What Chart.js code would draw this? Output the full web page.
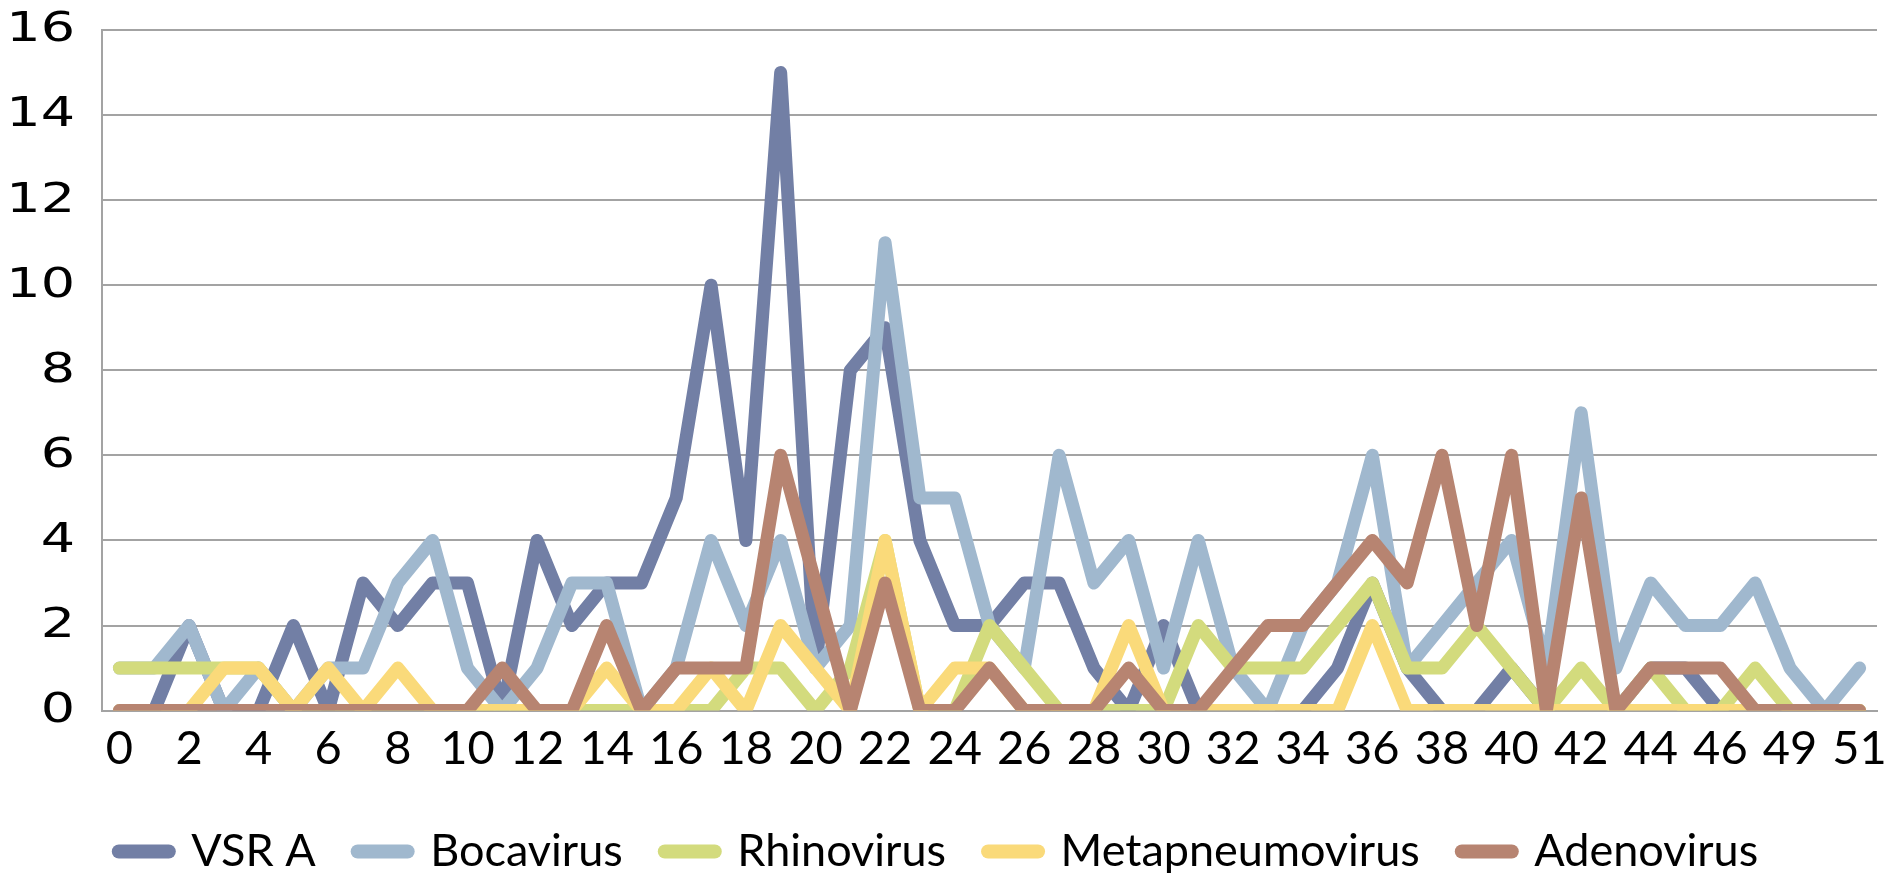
<!DOCTYPE html>
<html>
<head>
<meta charset="utf-8">
<script src="https://cdn.jsdelivr.net/npm/chart.js@4.4.1/dist/chart.umd.min.js"></script>
<style>
  html, body { margin: 0; padding: 0; background: #ffffff; overflow: hidden; }
  #wrap { width: 1887px; height: 873px; }
</style>
</head>
<body>
<div id="wrap"><canvas id="chart" width="1887" height="873"></canvas></div>
<script>
// Epidemiological weeks (week 48 has no record)
const weeks = [0,1,2,3,4,5,6,7,8,9,10,11,12,13,14,15,16,17,18,19,20,21,22,23,24,25,26,27,28,29,30,31,32,33,34,35,36,37,38,39,40,41,42,43,44,45,46,47,49,50,51];

// Positive detections per week
const vsrA            = [0,0,2,0,0,2,0,3,2,3,3,0,4,2,3,3,5,10,4,15,1,8,9,4,2,2,3,3,1,0,2,0,0,0,0,1,3,1,0,0,1,0,0,0,1,1,0,0,0,0,0];
const bocavirus       = [1,1,2,0,1,0,1,1,3,4,1,0,1,3,3,0,1,4,2,4,1,2,11,5,5,2,1,6,3,4,1,4,1,0,2,3,6,1,2,3,4,1,7,1,3,2,2,3,1,0,1];
const rhinovirus      = [1,1,1,1,1,0,0,0,0,0,0,0,0,0,0,0,0,0,1,1,0,1,4,0,0,2,1,0,0,0,0,2,1,1,1,2,3,1,1,2,1,0,1,0,1,0,0,1,0,0,0];
const metapneumovirus = [0,0,0,1,1,0,1,0,1,0,0,0,0,0,1,0,0,1,0,2,1,0,4,0,1,1,0,0,0,2,0,0,0,0,0,0,2,0,0,0,0,0,0,0,0,0,0,0,0,0,0];
const adenovirus      = [0,0,0,0,0,0,0,0,0,0,0,1,0,0,2,0,1,1,1,6,3,0,3,0,0,1,0,0,0,1,0,0,1,2,2,3,4,3,6,2,6,0,5,0,1,1,1,0,0,0,0];

const seriesNames  = ['VSR A', 'Bocavirus', 'Rhinovirus', 'Metapneumovirus', 'Adenovirus'];
const seriesValues = [vsrA, bocavirus, rhinovirus, metapneumovirus, adenovirus];
const seriesColors = ['#727fa5', '#a0b8ce', '#d3db7d', '#fada7a', '#b78471'];

const yTicks = [0, 2, 4, 6, 8, 10, 12, 14, 16];

const LABEL_FONT = "Lato, 'Open Sans', sans-serif";
const VALUE_FONT = "'DejaVu Sans', Verdana, sans-serif";
const GRID   = '#a3a3a3';
const STROKE = 13;

// Value axis labels, drawn wide next to the axis line
const yLabelPlugin = {
  id: 'yLabels',
  afterDraw(chart) {
    const scale = chart.scales.y;
    const ctx = chart.ctx;
    ctx.save();
    ctx.fillStyle = '#000000';
    ctx.font = '40px ' + VALUE_FONT;
    ctx.textAlign = 'right';
    ctx.textBaseline = 'middle';
    yTicks.forEach(v => {
      const y = scale.getPixelForValue(v);
      ctx.save();
      ctx.translate(scale.left + 75, y + 1);
      ctx.scale(1.35, 1);
      ctx.fillText(String(v), 0, 0);
      ctx.restore();
    });
    ctx.restore();
  }
};

// later series are painted over earlier ones
const datasets = seriesNames.map((name, i) => ({
  label: name,
  data: seriesValues[i],
  borderColor: seriesColors[i],
  backgroundColor: seriesColors[i],
  borderWidth: STROKE,
  borderCapStyle: 'round',
  borderJoinStyle: 'round',
  pointRadius: 0,
  pointHoverRadius: 0,
  tension: 0,
  order: seriesNames.length - i
}));

new Chart(document.getElementById('chart'), {
  type: 'line',
  data: { labels: weeks.map(String), datasets },
  plugins: [yLabelPlugin],
  options: {
    responsive: false,
    animation: false,
    devicePixelRatio: 1,
    layout: { padding: { top: 30, right: 10, bottom: 0, left: 0 } },
    plugins: {
      tooltip: { enabled: false },
      legend: {
        position: 'bottom',
        maxHeight: 86,
        labels: {
          usePointStyle: true,
          pointStyle: 'line',
          pointStyleWidth: 50,
          padding: 42,
          color: '#000000',
          font: { family: LABEL_FONT, size: 45 },
          generateLabels: chart => chart.data.datasets.map((ds, i) => ({
            text: ds.label,
            fillStyle: ds.borderColor,
            strokeStyle: ds.borderColor,
            lineWidth: 14,
            lineCap: 'round',
            pointStyle: 'line',
            fontColor: '#000000',
            hidden: !chart.isDatasetVisible(i),
            datasetIndex: i
          }))
        }
      }
    },
    scales: {
      x: {
        offset: true,
        grid: { display: false, drawTicks: false },
        border: { display: true, color: GRID, width: 2 },
        afterFit: scale => { scale.paddingLeft = 0; scale.paddingRight = 0; },
        ticks: {
          autoSkip: false,
          maxRotation: 0,
          minRotation: 0,
          padding: 10,
          color: '#000000',
          font: { family: LABEL_FONT, size: 47 },
          callback: (value, index) => (index % 2 === 0 ? String(weeks[index]) : '')
        }
      },
      y: {
        min: yTicks[0],
        max: yTicks[yTicks.length - 1],
        afterBuildTicks: scale => { scale.ticks = yTicks.map(v => ({ value: v })); },
        afterFit: scale => { scale.width = 102; scale.paddingTop = 0; scale.paddingBottom = 0; },
        grid: { color: GRID, lineWidth: 2, drawTicks: false },
        border: { display: true, color: GRID, width: 2 },
        ticks: { display: false }
      }
    }
  }
});
</script>
</body>
</html>
